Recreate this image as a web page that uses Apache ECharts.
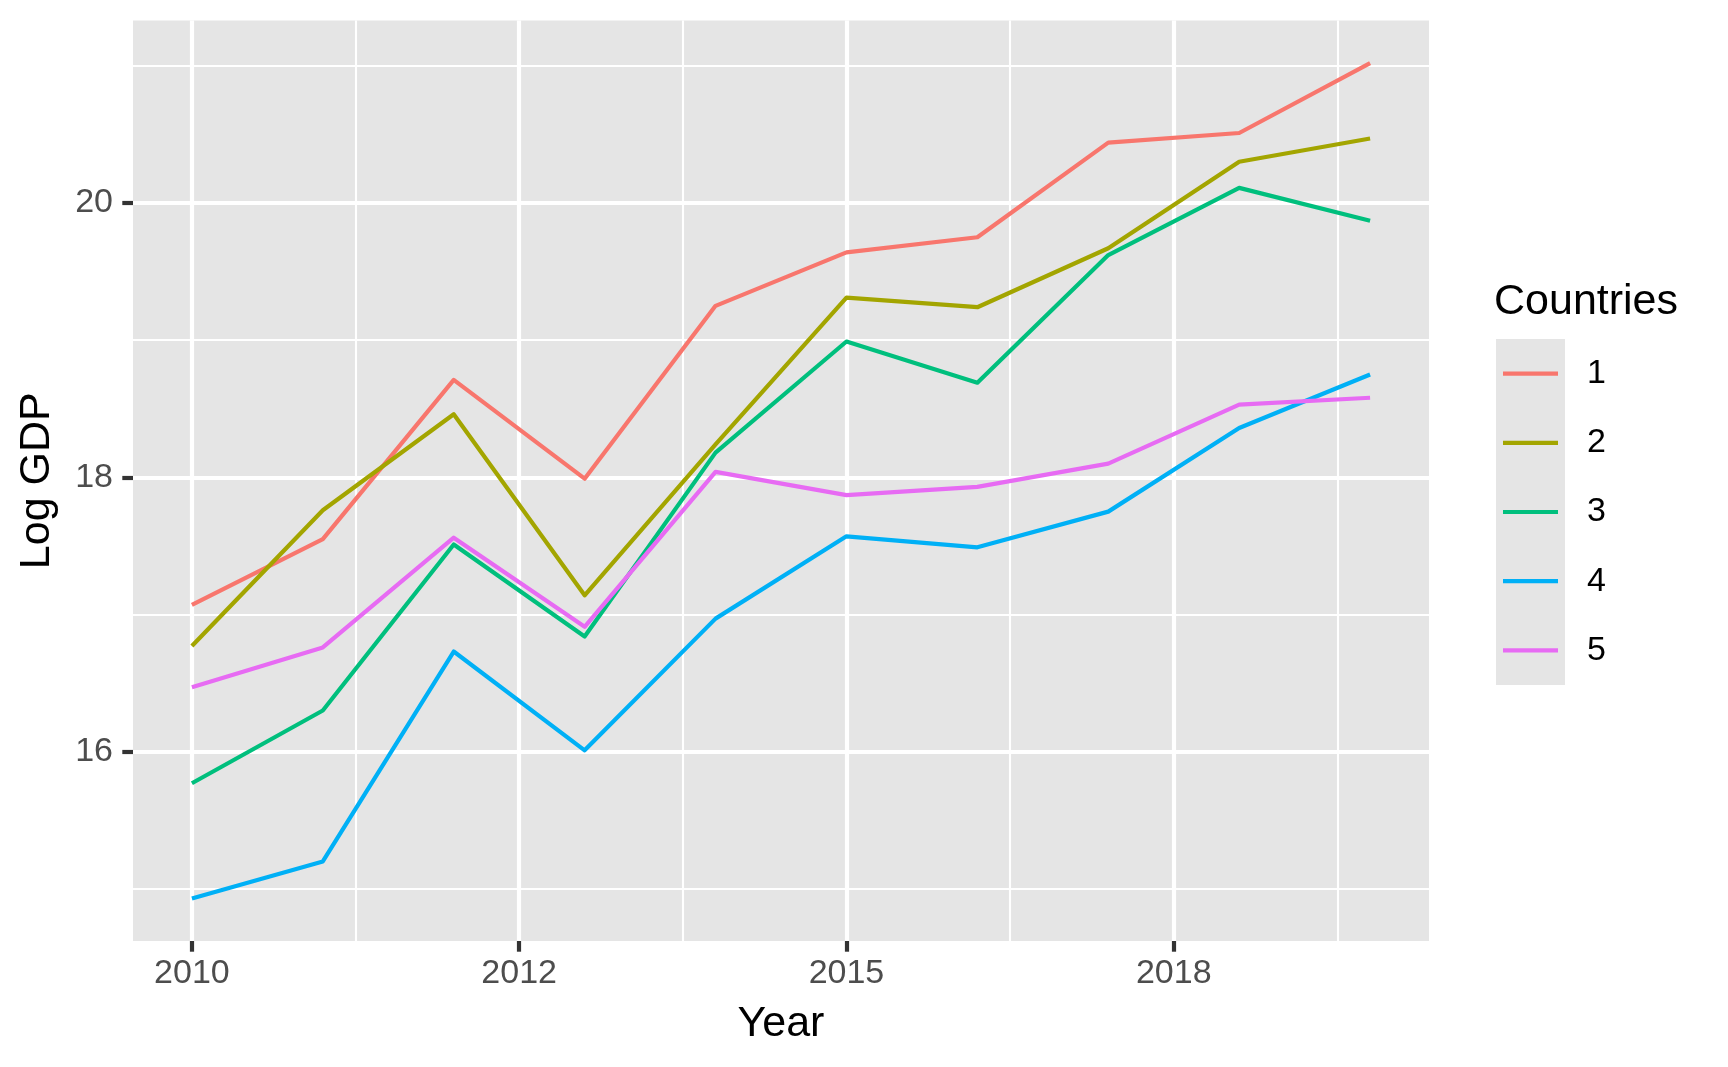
<!DOCTYPE html>
<html>
<head>
<meta charset="utf-8">
<script src="https://cdn.jsdelivr.net/npm/echarts@6/dist/echarts.min.js"></script>
<style>
  html, body { margin: 0; padding: 0; background: #ffffff; }
  #chart { width: 1728px; height: 1067px; }
</style>
</head>
<body>
<div id="chart"></div>
<script>
// ---- data ----
const periods = [0, 1, 2, 3, 4, 5, 6, 7, 8, 9];
const countries = ['1', '2', '3', '4', '5'];
const gdp1 = [17.07, 17.55, 18.71, 17.99, 19.25, 19.64, 19.75, 20.44, 20.51, 21.02];
const gdp2 = [16.77, 17.76, 18.46, 17.14, 18.24, 19.31, 19.24, 19.67, 20.30, 20.47];
const gdp3 = [15.77, 16.30, 17.51, 16.84, 18.18, 18.99, 18.69, 19.62, 20.11, 19.87];
const gdp4 = [14.93, 15.20, 16.73, 16.01, 16.97, 17.57, 17.49, 17.75, 18.36, 18.75];
const gdp5 = [16.47, 16.76, 17.56, 16.91, 18.04, 17.87, 17.93, 18.10, 18.53, 18.58];
const xTickValues = [0, 2.5, 5, 7.5];
const xTickLabels = ['2010', '2012', '2015', '2018'];
const xMinorValues = [1.25, 3.75, 6.25, 8.75];
const yTickValues = [16, 18, 20];
const yMinorValues = [15, 17, 19, 21];

const colors = ['#F8766D', '#A3A500', '#00BF7D', '#00B0F6', '#E76BF3'];
const allSeries = [gdp1, gdp2, gdp3, gdp4, gdp5];

const FONT = '"Liberation Sans", Arial, Helvetica, sans-serif';
const PANEL = '#E5E5E5';

const chart = echarts.init(document.getElementById('chart'), null, { renderer: 'canvas' });

const series = allSeries.map((vals, i) => ({
  name: countries[i],
  type: 'line',
  xAxisIndex: 0,
  yAxisIndex: 0,
  data: periods.map((p, j) => [p, vals[j]]),
  showSymbol: false,
  symbol: 'none',
  lineStyle: { color: colors[i], width: 4.2, cap: 'butt', join: 'round' },
  itemStyle: { color: colors[i] },
  emphasis: { disabled: true },
  z: 5
}));

const option = {
  animation: false,
  backgroundColor: '#ffffff',
  grid: {
    left: 133, right: 299, top: 20.5, bottom: 126,
    show: true, backgroundColor: PANEL, borderWidth: 0
  },
  xAxis: [
    {
      type: 'value', min: -0.45, max: 9.45,
      name: 'Year', nameLocation: 'middle', nameGap: 62,
      nameTextStyle: { fontFamily: FONT, fontSize: 43, color: '#000000', lineHeight: 43 },
      axisLine: { show: false, onZero: false },
      axisTick: { show: true, length: 10.7, customValues: xTickValues,
                  lineStyle: { color: '#333333', width: 4.2 } },
      axisLabel: {
        show: true, margin: 16, customValues: xTickValues,
        fontFamily: FONT, fontSize: 34, color: '#4D4D4D', lineHeight: 34,
        formatter: function (v) {
          const k = xTickValues.indexOf(v);
          return k >= 0 ? xTickLabels[k] : '';
        }
      },
      splitLine: { show: true, lineStyle: { color: '#ffffff', width: 4.2 } },
      z: 3
    },
    {
      type: 'value', min: -0.45, max: 9.45, position: 'bottom',
      axisLine: { show: false, onZero: false },
      axisTick: { show: false, customValues: xMinorValues },
      axisLabel: { show: false, customValues: xMinorValues },
      splitLine: { show: true, lineStyle: { color: '#ffffff', width: 2.1 } },
      z: 2
    }
  ],
  yAxis: [
    {
      type: 'value', min: 14.62, max: 21.33,
      name: 'Log GDP', nameLocation: 'middle', nameGap: 74,
      nameTextStyle: { fontFamily: FONT, fontSize: 43, color: '#000000', lineHeight: 43 },
      axisLine: { show: false, onZero: false },
      axisTick: { show: true, length: 10.7, customValues: yTickValues,
                  lineStyle: { color: '#333333', width: 4.2 } },
      axisLabel: {
        show: true, margin: 20, customValues: yTickValues,
        fontFamily: FONT, fontSize: 34, color: '#4D4D4D'
      },
      splitLine: { show: true, lineStyle: { color: '#ffffff', width: 4.2 } },
      z: 3
    },
    {
      type: 'value', min: 14.62, max: 21.33, position: 'left',
      axisLine: { show: false, onZero: false },
      axisTick: { show: false, customValues: yMinorValues },
      axisLabel: { show: false, customValues: yMinorValues },
      splitLine: { show: true, lineStyle: { color: '#ffffff', width: 2.1 } },
      z: 2
    }
  ],
  legend: {
    show: true,
    orient: 'vertical',
    left: 1503, top: 354.1, padding: 0,
    data: countries,
    icon: 'rect',
    itemWidth: 55, itemHeight: 4.2,
    itemGap: 30.2,
    selectedMode: false,
    textStyle: { fontFamily: FONT, fontSize: 34, color: '#000000', lineHeight: 34, padding: [5, 0, 0, 24] },
    z: 10
  },
  graphic: [
    {
      type: 'rect', left: 1496, top: 339, z: 1, silent: true,
      shape: { width: 69, height: 346 },
      style: { fill: PANEL }
    },
    {
      type: 'text', left: 1494, top: 281, z: 10, silent: true,
      style: { text: 'Countries', font: '43px ' + FONT, fill: '#000000' }
    }
  ],
  series: series
};

chart.setOption(option);
</script>
</body>
</html>
